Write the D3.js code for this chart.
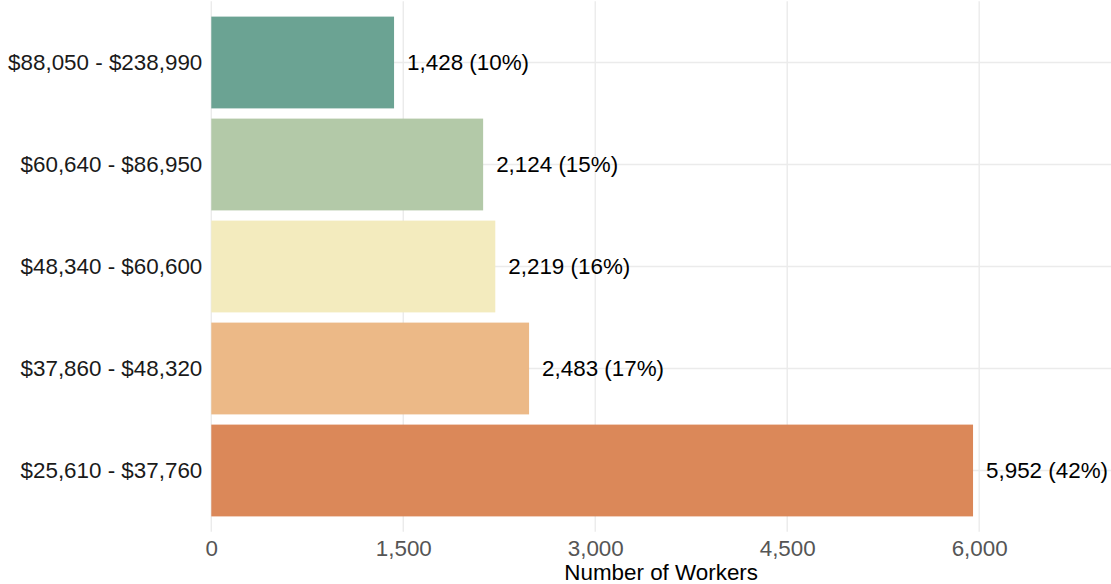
<!DOCTYPE html>
<html><head><meta charset="utf-8">
<script src="https://cdn.jsdelivr.net/npm/d3@7"></script>
<style>body{margin:0;background:#fff}svg{display:block}text{font-family:"Liberation Sans",Arial,sans-serif}</style>
</head><body><svg id="c" width="1111" height="584"></svg>
<script>
const categories = ["$88,050 - $238,990","$60,640 - $86,950","$48,340 - $60,600","$37,860 - $48,320","$25,610 - $37,760"];
const workers = [1428, 2124, 2219, 2483, 5952];
const percents = ["10%","15%","16%","17%","42%"];
const colors = ["#6BA393","#B3C9A8","#F3EBBE","#ECB987","#DB8859"];
const xTicks = [0,1500,3000,4500,6000];
const xTitle = "Number of Workers";

(function(){
const svg = d3.select("#c");
const fs = 22.4;
const pLeft = 211.3, pRight = 1111, pTop = 1.3, pBottom = 531.7;
const x = d3.scaleLinear().domain([0, 7030]).range([pLeft, pRight]);
const y = d3.scaleBand().domain(categories).range([pTop, pBottom]).paddingInner(0.1).paddingOuter(0.15);

const grid = svg.append("g");
grid.selectAll("line.v").data(xTicks).join("line").attr("class","v")
  .attr("x1", d => x(d)).attr("x2", d => x(d)).attr("y1", pTop).attr("y2", pBottom)
  .attr("stroke", "#EBEBEB").attr("stroke-width", 1.4);
grid.selectAll("line.h").data(categories).join("line").attr("class","h")
  .attr("x1", pLeft).attr("x2", pRight)
  .attr("y1", d => y(d) + y.bandwidth()/2).attr("y2", d => y(d) + y.bandwidth()/2)
  .attr("stroke", "#EBEBEB").attr("stroke-width", 1.4);

svg.append("g").selectAll("rect").data(categories).join("rect")
  .attr("x", x(0)).attr("y", d => y(d))
  .attr("width", (d,i) => x(workers[i]) - x(0)).attr("height", y.bandwidth())
  .attr("fill", (d,i) => colors[i]);

svg.append("g").selectAll("text").data(categories).join("text")
  .attr("x", (d,i) => x(workers[i]) + 13)
  .attr("y", d => y(d) + y.bandwidth()/2).attr("dy", "0.35em")
  .attr("font-size", fs).attr("fill", "#000")
  .text((d,i) => d3.format(",")(workers[i]) + " (" + percents[i] + ")");

const yAxis = svg.append("g").attr("transform", `translate(${pLeft},0)`)
  .call(d3.axisLeft(y).tickSize(0).tickPadding(9));
yAxis.select(".domain").remove();
yAxis.selectAll("text").attr("font-size", fs).attr("fill", "#1a1a1a").style("font-family", '"Liberation Sans",Arial,sans-serif');

const xAxis = svg.append("g").attr("transform", `translate(0,${pBottom})`)
  .call(d3.axisBottom(x).tickValues(xTicks).tickFormat(d3.format(",")).tickSize(0).tickPadding(8));
xAxis.select(".domain").remove();
xAxis.selectAll("text").attr("font-size", fs).attr("fill", "#555").style("font-family", '"Liberation Sans",Arial,sans-serif');

svg.append("text").attr("x", (pLeft + pRight)/2).attr("y", 580)
  .attr("text-anchor", "middle").attr("font-size", fs).attr("fill", "#000").text(xTitle);
})();
</script></body></html>
